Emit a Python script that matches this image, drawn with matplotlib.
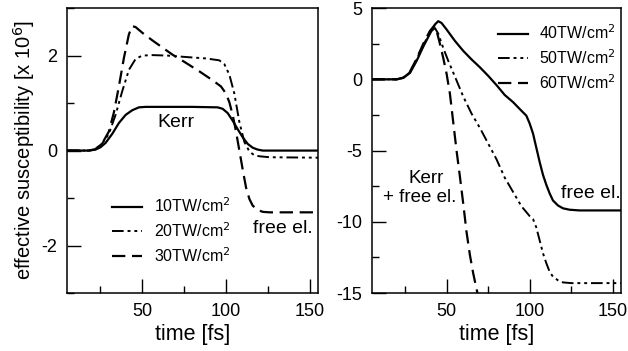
import matplotlib
matplotlib.use("Agg")
import matplotlib.pyplot as plt
from matplotlib.ticker import MultipleLocator

plt.rcParams['font.family'] = ['Liberation Sans', 'DejaVu Sans']
plt.rcParams['axes.unicode_minus'] = False

# left panel: 10, 20, 30 TW/cm^2
t10 = [5, 18, 22, 25, 28, 32, 36, 40, 44, 48, 52, 60, 80, 95, 98, 101, 104, 107, 110, 113, 116, 119, 122, 130, 155]
chi10 = [0, 0, 0.02, 0.07, 0.16, 0.35, 0.58, 0.75, 0.85, 0.91, 0.92, 0.92, 0.92, 0.91, 0.88, 0.79, 0.63, 0.45, 0.28, 0.14, 0.06, 0.02, 0, 0, 0]

t20 = [5, 18, 22, 26, 30, 34, 38, 42, 46, 50, 56, 65, 76, 88, 96, 99, 102, 105, 108, 111, 114, 117, 120, 126, 155]
chi20 = [0, 0, 0.03, 0.15, 0.35, 0.75, 1.25, 1.7, 1.93, 2.0, 2.01, 2.0, 1.97, 1.94, 1.9, 1.82, 1.6, 1.2, 0.6, 0.18, -0.02, -0.1, -0.12, -0.14, -0.15]

t30 = [5, 18, 22, 26, 30, 33, 36, 39, 42, 44, 46, 50, 56, 62, 68, 75, 84, 92, 97, 100, 102, 104, 106, 108, 110, 112, 114, 116, 119, 122, 126, 155]
chi30 = [0, 0, 0.03, 0.15, 0.4, 0.8, 1.35, 1.95, 2.45, 2.62, 2.6, 2.48, 2.32, 2.17, 2.02, 1.87, 1.67, 1.48, 1.35, 1.2, 1.02, 0.75, 0.4, 0.0, -0.4, -0.78, -1.02, -1.16, -1.25, -1.29, -1.3, -1.3]

# right panel: 40, 50, 60 TW/cm^2
t40 = [5, 20, 24, 28, 32, 36, 40, 43, 45, 47, 50, 55, 60, 65, 70, 75, 80, 85, 90, 95, 98, 100, 102, 104, 106, 108, 110, 112, 114, 117, 120, 124, 130, 155]
chi40 = [0, 0, 0.1, 0.45, 1.3, 2.3, 3.2, 3.85, 4.08, 3.95, 3.5, 2.7, 2.0, 1.4, 0.85, 0.25, -0.4, -1.1, -1.6, -2.2, -2.55, -3.1, -3.8, -4.8, -5.8, -6.7, -7.4, -8.0, -8.5, -8.85, -9.05, -9.15, -9.2, -9.2]

t50 = [5, 20, 24, 28, 32, 36, 40, 43, 45, 48, 51, 55, 60, 65, 70, 75, 80, 85, 90, 95, 100, 102, 104, 106, 108, 110, 112, 114, 117, 120, 125, 155]
chi50 = [0, 0, 0.12, 0.5, 1.4, 2.4, 3.3, 3.6, 3.2, 2.2, 1.3, 0.2, -1.2, -2.4, -3.4, -4.5, -5.6, -6.9, -7.9, -8.9, -9.6, -9.8, -10.4, -11.3, -12.2, -12.9, -13.5, -13.85, -14.1, -14.25, -14.3, -14.3]

t60 = [5, 20, 24, 28, 32, 36, 40, 42.5, 44, 46, 48, 50, 52, 54, 56, 58, 60, 62, 64, 66, 68, 70]
chi60 = [0, 0, 0.12, 0.55, 1.45, 2.5, 3.4, 3.75, 3.4, 2.5, 1.5, 0.4, -1.0, -3.0, -5.0, -6.8, -8.7, -10.7, -12.3, -13.6, -14.7, -15.7]

solid = dict(color='black', lw=1.6, linestyle='-')
dashdot = dict(color='black', lw=1.4, linestyle=(0, (6, 2, 1.5, 2, 1.5, 2)))
dashed = dict(color='black', lw=1.6, linestyle=(0, (6, 3)))

fig = plt.figure(figsize=(6.28, 3.51), dpi=100)
ax1 = fig.add_axes([0.1067, 0.165, 0.3997, 0.812])
ax2 = fig.add_axes([0.592, 0.165, 0.397, 0.812])

leg_kw = dict(frameon=False, fontsize=11.5, handlelength=1.9, handletextpad=0.7,
              labelspacing=0.38, borderpad=0.2)

ax1.plot(t10, chi10, label='10TW/cm$^2$', **solid)
ax1.plot(t20, chi20, label='20TW/cm$^2$', **dashdot)
ax1.plot(t30, chi30, label='30TW/cm$^2$', **dashed)
ax1.set_xlim(5, 155)
ax1.set_ylim(-3, 3)
ax1.yaxis.set_major_locator(MultipleLocator(2))
ax1.yaxis.set_minor_locator(MultipleLocator(1))
ax1.set_ylabel('effective susceptibility [x 10$^6$]', fontsize=14.5, labelpad=3)
ax1.text(70, 0.6, 'Kerr', fontsize=14, ha='center', va='center')
ax1.text(134, -1.65, 'free el.', fontsize=14, ha='center', va='center')
ax1.legend(loc='lower left', bbox_to_anchor=(0.135, 0.06), **leg_kw)

ax2.plot(t40, chi40, label='40TW/cm$^2$', **solid)
ax2.plot(t50, chi50, label='50TW/cm$^2$', **dashdot)
ax2.plot(t60, chi60, label='60TW/cm$^2$', **dashed)
ax2.set_xlim(5, 155)
ax2.set_ylim(-15, 5)
ax2.yaxis.set_major_locator(MultipleLocator(5))
ax2.yaxis.set_minor_locator(MultipleLocator(2.5))
ax2.text(37.5, -6.95, 'Kerr', fontsize=13.5, ha='center', va='center')
ax2.text(34, -8.3, '+ free el.', fontsize=13.5, ha='center', va='center')
ax2.text(137, -8.0, 'free el.', fontsize=14, ha='center', va='center')
ax2.legend(loc='upper left', bbox_to_anchor=(0.46, 0.985), **leg_kw)

for ax in (ax1, ax2):
    ax.xaxis.set_major_locator(MultipleLocator(50))
    ax.xaxis.set_minor_locator(MultipleLocator(25))
    ax.tick_params(which='major', direction='in', length=10, width=1, labelsize=13, pad=7)
    ax.tick_params(which='minor', direction='in', length=5, width=1)
    ax.set_xlabel('time [fs]', fontsize=15.5, labelpad=3)
    for s in ax.spines.values():
        s.set_linewidth(1.1)

fig.savefig('out.png', dpi=100)
